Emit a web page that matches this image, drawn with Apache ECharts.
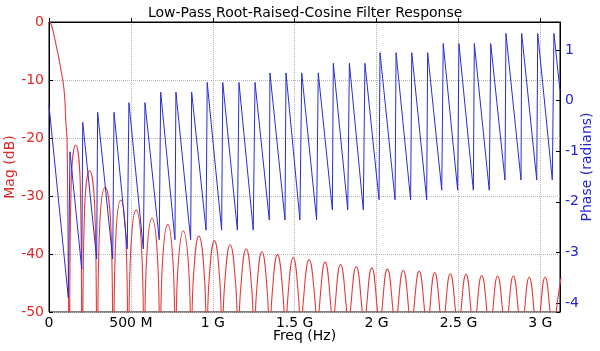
<!DOCTYPE html>
<html>
<head>
<meta charset="utf-8">
<script src="https://cdn.jsdelivr.net/npm/echarts@6/dist/echarts.min.js"></script>
<style>
  html, body { margin: 0; padding: 0; background: #fff; }
  #chart { width: 600px; height: 351px; }
</style>
</head>
<body>
<div id="chart"></div>
<script>
// frequencies in MHz, magnitude in dB
const magMainLobe = [
  [0, 0], [12, -0.3], [30, -2.2], [45, -4.2], [61, -6.4], [75, -8.6], [87, -10.5],
  [97, -13.5], [102, -16.9], [110, -20.4], [114, -30], [117, -40], [120, -50]
];
// sidelobes: null, rising edge, peak, falling edge
const magSidelobes = [
  [123, -56], [135, -28.2], [163, -21.2], [191, -28.2],
  [203, -56], [217, -32.6], [248, -25.6], [280, -32.6],
  [294, -56], [309, -35.5], [343, -28.5], [378, -35.5],
  [393, -56], [407, -37.7], [438, -30.7], [470, -37.7],
  [484, -56], [499, -39.4], [532, -32.4], [566, -39.4],
  [581, -56], [596, -40.8], [629, -33.8], [663, -40.8],
  [678, -56], [692, -41.9], [725, -34.9], [758, -41.9],
  [772, -56], [786, -43.0], [820, -36.0], [854, -43.0],
  [868, -56], [882, -43.9], [915, -36.9], [949, -43.9],
  [963, -56], [977, -44.7], [1010, -37.7], [1043, -44.7],
  [1057, -56], [1072, -45.4], [1106, -38.4], [1140, -45.4],
  [1155, -56], [1170, -46.1], [1204, -39.1], [1238, -46.1],
  [1253, -56], [1267, -46.6], [1300, -39.6], [1333, -46.6],
  [1347, -56], [1362, -47.1], [1395, -40.1], [1429, -47.1],
  [1444, -56], [1458, -47.6], [1491, -40.6], [1524, -47.6],
  [1538, -56], [1553, -48.0], [1588, -41.0], [1624, -48.0],
  [1639, -56], [1653, -48.4], [1686, -41.4], [1719, -48.4],
  [1733, -56], [1747, -48.8], [1780, -41.8], [1814, -48.8],
  [1828, -56], [1842, -49.2], [1876, -42.2], [1910, -49.2],
  [1924, -56], [1938, -49.4], [1971, -42.4], [2004, -49.4],
  [2018, -56], [2033, -49.6], [2066, -42.6], [2100, -49.6],
  [2115, -56], [2129, -49.8], [2163, -42.8], [2197, -49.8],
  [2211, -56], [2226, -50.0], [2260, -43.0], [2294, -50.0],
  [2309, -56], [2323, -50.2], [2355, -43.2], [2388, -50.2],
  [2402, -56], [2417, -50.4], [2450, -43.4], [2484, -50.4],
  [2499, -56], [2513, -50.5], [2546, -43.5], [2579, -50.5],
  [2593, -56], [2608, -50.7], [2642, -43.7], [2677, -50.7],
  [2692, -56], [2706, -50.8], [2739, -43.8], [2773, -50.8],
  [2787, -56], [2802, -50.8], [2835, -43.8], [2869, -50.8],
  [2884, -56], [2899, -51.0], [2932, -44.0], [2966, -51.0],
  [2981, -56], [2996, -51.0], [3029, -44.0], [3063, -51.0],
  [3078, -56], [3092, -51.0], [3126, -44.1]
];
// phase in radians: top after each jump, bottom before the next one
const phaseResponse = [
  [0, -0.10], [118, -3.90], [128, -1.01], [200, -3.33], [206, -0.43],
  [291, -3.13], [297, -0.23], [389, -3.13], [397, -0.23], [478, -2.93],
  [488, -0.04], [576, -2.93], [586, -0.04], [673, -2.75], [682, 0.17],
  [769, -2.75], [775, 0.17], [865, -2.75], [871, 0.17], [959, -2.56],
  [966, 0.36], [1054, -2.56], [1061, 0.36], [1150, -2.56], [1160, 0.36],
  [1247, -2.56], [1258, 0.36], [1345, -2.36], [1349, 0.55], [1441, -2.36],
  [1447, 0.55], [1532, -2.36], [1543, 0.55], [1634, -2.36], [1644, 0.55],
  [1730, -2.16], [1736, 0.74], [1824, -2.16], [1834, 0.74], [1919, -2.16],
  [1929, 0.74], [2015, -1.96], [2021, 0.95], [2113, -1.96], [2119, 0.95],
  [2208, -1.96], [2215, 0.95], [2306, -1.96], [2312, 0.95], [2398, -1.77],
  [2407, 1.13], [2495, -1.77], [2503, 1.13], [2591, -1.77], [2597, 1.13],
  [2688, -1.77], [2697, 1.13], [2784, -1.57], [2790, 1.33], [2882, -1.57],
  [2886, 1.33], [2978, -1.57], [2984, 1.33], [3073, -1.57], [3083, 1.33],
  [3120, 0.20]
];
const freqTicksMHz = [0, 500, 1000, 1500, 2000, 2500, 3000];
const freqTickLabels = ['0', '500 M', '1 G', '1.5 G', '2 G', '2.5 G', '3 G'];

const RED = '#e02828';
const BLUE = '#2424d4';
const FONT = 'DejaVu Sans';

const chart = echarts.init(document.getElementById('chart'));
const gridLine = { show: true, lineStyle: { color: '#b4b4b4', type: 'dotted', width: 1 } };
const tick = { show: true, inside: true, length: 4, lineStyle: { color: '#000' } };

chart.setOption({
  animation: false,
  backgroundColor: '#fff',
  title: {
    text: 'Low-Pass Root-Raised-Cosine Filter Response',
    left: 143,
    top: 1,
    textStyle: { fontFamily: FONT, fontSize: 14, fontWeight: 'normal', color: '#000' }
  },
  grid: {
    left: 49, right: 40, top: 22, bottom: 39,
    containLabel: false,
    outerBoundsMode: 'none',
    show: true, borderColor: '#000', borderWidth: 1, backgroundColor: 'transparent'
  },
  xAxis: {
    type: 'value',
    min: 0,
    max: 3120,
    interval: 500,
    name: 'Freq (Hz)',
    nameLocation: 'middle',
    nameGap: 17,
    nameMoveOverlap: false,
    nameTextStyle: { fontFamily: FONT, fontSize: 14, color: '#000' },
    axisLine: { lineStyle: { color: '#000' } },
    axisTick: tick,
    splitLine: gridLine,
    axisLabel: {
      margin: 4,
      fontFamily: FONT,
      fontSize: 14,
      color: '#000',
      showMaxLabel: false,
      formatter: function (v) {
        const i = freqTicksMHz.indexOf(v);
        return i >= 0 ? freqTickLabels[i] : '';
      }
    }
  },
  yAxis: [
    {
      type: 'value',
      min: -50,
      max: 0,
      interval: 10,
      name: 'Mag (dB)',
      nameLocation: 'middle',
      nameGap: 32,
      nameMoveOverlap: false,
      nameTextStyle: { fontFamily: FONT, fontSize: 14, color: RED },
      axisLine: { show: true, lineStyle: { color: '#000' } },
      axisTick: tick,
      splitLine: gridLine,
      axisLabel: { margin: 5, fontFamily: FONT, fontSize: 14, color: RED }
    },
    {
      type: 'value',
      position: 'right',
      min: -4.18,
      max: 1.556,
      name: 'Phase (radians)',
      nameLocation: 'middle',
      nameGap: 20,
      nameRotate: 90,
      nameMoveOverlap: false,
      nameTextStyle: { fontFamily: FONT, fontSize: 14, color: BLUE },
      axisLine: { show: true, lineStyle: { color: '#000' } },
      axisTick: tick,
      splitLine: { show: false },
      axisLabel: {
        margin: 5,
        fontFamily: FONT,
        fontSize: 14,
        color: BLUE,
        formatter: function (v) {
          return Math.abs(v - Math.round(v)) < 1e-6 ? String(Math.round(v)) : '';
        }
      }
    }
  ],
  series: [
    {
      name: 'Magnitude',
      type: 'line',
      yAxisIndex: 0,
      data: magMainLobe.concat(magSidelobes),
      smooth: 0.5,
      symbol: 'none',
      clip: true,
      lineStyle: { color: '#e23c3c', width: 1.1 }
    },
    {
      name: 'Phase',
      type: 'line',
      yAxisIndex: 1,
      data: phaseResponse,
      symbol: 'none',
      clip: true,
      lineStyle: { color: '#2c2cd2', width: 1 }
    }
  ]
});
</script>
</body>
</html>
